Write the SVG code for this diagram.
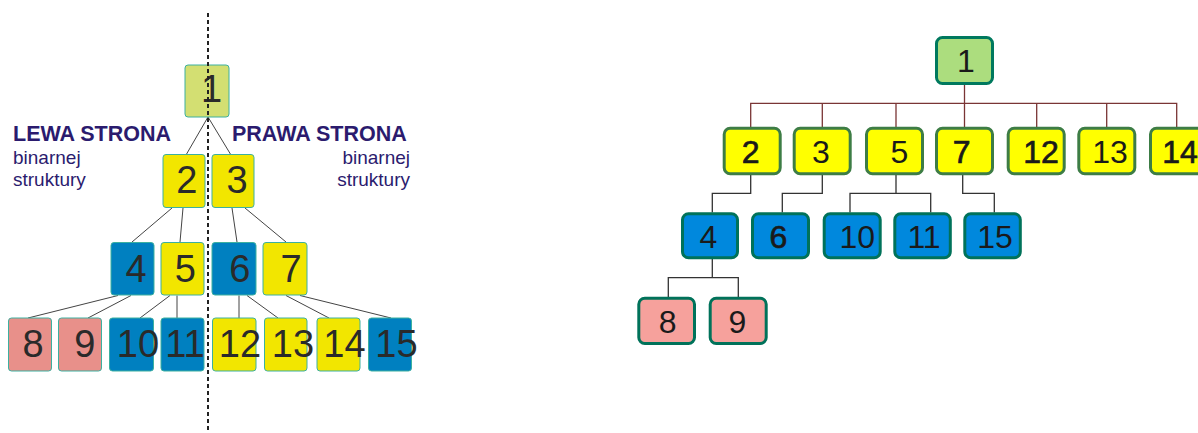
<svg xmlns="http://www.w3.org/2000/svg" width="1198" height="433" viewBox="0 0 1198 433">
<style>
.lb{stroke:#3cb0a0;stroke-width:1}
.lt{font-family:"Liberation Sans",Arial,sans-serif;font-size:38px;fill:#2a2a2a;text-anchor:middle}
.ly{fill:#f2e600}.lbl{fill:#0080c0}.lp{fill:#e8908a}.lg{fill:#d3df72}
.rb{stroke-width:3}
.ry{fill:#ffff00;stroke:#3d7d45}.rbl{fill:#0088dd;stroke:#00725a}.rp{fill:#f6a19c;stroke:#00725a}.rg{fill:#acdd7e;stroke:#00795e}
.rt{font-family:"Liberation Sans",Arial,sans-serif;font-size:32px;fill:#1a1a1a;text-anchor:middle}
.b{stroke:#1a1a1a;stroke-width:0.7}
.cl{stroke:#444;stroke-width:1;fill:none}
.cb{stroke:#7a3535;stroke-width:1.3;fill:none}
.cg{stroke:#333;stroke-width:1.3;fill:none}
.hd{font-family:"Liberation Sans",Arial,sans-serif;font-size:21.5px;font-weight:bold;fill:#2b1b6e}
.sb{font-family:"Liberation Sans",Arial,sans-serif;font-size:19px;fill:#2b1b6e}
</style>
<g id="connectors">
<path class="cl" d="M208,117 L186,155 M208,117 L231,155"/>
<path class="cl" d="M172,208 L132,242 M183,208 L180,242 M232,208 L237,242 M245,208 L286,242"/>
<path class="cl" d="M118,295.5 L28,318 M131,295.5 L88,318 M170,295.5 L140,318 M177,295.5 L177,318 M239,295.5 L239,318 M247,295.5 L278,318 M286,295.5 L329,318 M300,295.5 L391,318"/>
<path class="cb" d="M964.5,85 V127 M750.7,127 V103.3 H1176.7 V127 M822.3,103.3 V127 M896,103.3 V127 M1036.7,103.3 V127 M1106.7,103.3 V127"/>
<path class="cg" d="M750.7,175 V193.3 H712.3 V212.5 M822.3,175 V193.3 H782.3 V212.5 M896,175 V193.3 M850,212.5 V193.3 H930.7 V212.5 M962.7,175 V193.3 H994.3 V212.5 M712.3,259 V277.7 M668.3,297 V277.7 H738.3 V297"/>
</g>
<g id="left-labels">
<text class="hd" x="13" y="140.7">LEWA STRONA</text>
<text class="sb" x="13" y="164">binarnej</text>
<text class="sb" x="13" y="186">struktury</text>
<text class="hd" x="232" y="140.7">PRAWA STRONA</text>
<text class="sb" x="410" y="164" text-anchor="end">binarnej</text>
<text class="sb" x="410" y="186" text-anchor="end">struktury</text>
</g>
<g id="L1"><rect class="lb lg" x="185" y="65" width="44" height="52" rx="3"/><text class="lt" x="211.5" y="101.7">1</text></g>
<g id="L2"><rect class="lb ly" x="163" y="154.5" width="42" height="53" rx="3"/><text class="lt" x="186.7" y="193.3">2</text></g>
<g id="L3"><rect class="lb ly" x="212" y="154.5" width="42" height="53" rx="3"/><text class="lt" x="237" y="193.3">3</text></g>
<g id="L4"><rect class="lb lbl" x="111" y="242.5" width="43" height="52.5" rx="3"/><text class="lt" x="136" y="281.7">4</text></g>
<g id="L5"><rect class="lb ly" x="161" y="242.5" width="43" height="52.5" rx="3"/><text class="lt" x="185.3" y="281.7">5</text></g>
<g id="L6"><rect class="lb lbl" x="212" y="242.5" width="44" height="52.5" rx="3"/><text class="lt" x="239.7" y="281.7">6</text></g>
<g id="L7"><rect class="lb ly" x="263" y="242.5" width="44" height="52.5" rx="3"/><text class="lt" x="291" y="281.7">7</text></g>
<g id="L8"><rect class="lb lp" x="8.5" y="318" width="43" height="53" rx="3"/><text class="lt" x="33" y="356.7">8</text></g>
<g id="L9"><rect class="lb lp" x="58.5" y="318" width="43" height="53" rx="3"/><text class="lt" x="84.7" y="356.7">9</text></g>
<g id="L10"><rect class="lb lbl" x="109.5" y="318" width="44" height="53" rx="3"/><text class="lt" x="138" y="356.7">10</text></g>
<g id="L11"><rect class="lb lbl" x="161" y="318" width="43" height="53" rx="3"/><text class="lt" x="185" y="356.7">11</text></g>
<g id="L12"><rect class="lb ly" x="212.5" y="318" width="43.5" height="53" rx="3"/><text class="lt" x="240" y="356.7">12</text></g>
<g id="L13"><rect class="lb ly" x="264.5" y="318" width="42.5" height="53" rx="3"/><text class="lt" x="293" y="356.7">13</text></g>
<g id="L14"><rect class="lb ly" x="317" y="318" width="43" height="53" rx="3"/><text class="lt" x="344.5" y="356.7">14</text></g>
<g id="L15"><rect class="lb lbl" x="368.5" y="318" width="43" height="53" rx="3"/><text class="lt" x="396.5" y="356.7">15</text></g>
<line x1="208" y1="13" x2="208" y2="433" stroke="#222" stroke-width="2" stroke-dasharray="4,3"/>
<g id="R1"><rect class="rb rg" x="936.5" y="37.5" width="56" height="46" rx="6"/><text class="rt" x="966" y="71.7">1</text></g>
<g id="R2"><rect class="rb ry" x="724.2" y="128.2" width="56" height="45.5" rx="6"/><text class="rt b" x="750.7" y="163.3">2</text></g>
<g id="R3"><rect class="rb ry" x="794.2" y="128.2" width="56" height="45.5" rx="6"/><text class="rt" x="821" y="163.3">3</text></g>
<g id="R5"><rect class="rb ry" x="866.5" y="128.2" width="56" height="45.5" rx="6"/><text class="rt" x="899.3" y="163.3">5</text></g>
<g id="R7"><rect class="rb ry" x="936.5" y="128.2" width="56" height="45.5" rx="6"/><text class="rt b" x="961.7" y="163.3">7</text></g>
<g id="R12"><rect class="rb ry" x="1008.2" y="128.2" width="56" height="45.5" rx="6"/><text class="rt b" x="1041" y="163.3">12</text></g>
<g id="R13"><rect class="rb ry" x="1078.8" y="128.2" width="56" height="45.5" rx="6"/><text class="rt" x="1110" y="163.3">13</text></g>
<g id="R14"><rect class="rb ry" x="1150.5" y="128.2" width="56" height="45.5" rx="6"/><text class="rt b" x="1180" y="163.3">14</text></g>
<g id="R4"><rect class="rb rbl" x="682.5" y="213.8" width="55" height="44" rx="6"/><text class="rt" x="708.3" y="248.3">4</text></g>
<g id="R6"><rect class="rb rbl" x="752.5" y="213.8" width="56" height="44" rx="6"/><text class="rt b" x="778.3" y="248.3">6</text></g>
<g id="R10"><rect class="rb rbl" x="824.2" y="213.8" width="56" height="44" rx="6"/><text class="rt" x="857.3" y="248.3">10</text></g>
<g id="R11"><rect class="rb rbl" x="894.8" y="213.8" width="55.5" height="44" rx="6"/><text class="rt" x="924" y="248.3">11</text></g>
<g id="R15"><rect class="rb rbl" x="964.8" y="213.8" width="55.5" height="44" rx="6"/><text class="rt" x="995" y="248.3">15</text></g>
<g id="R8"><rect class="rb rp" x="638.8" y="298.2" width="55.7" height="45.3" rx="6"/><text class="rt" x="667.7" y="333.3">8</text></g>
<g id="R9"><rect class="rb rp" x="710.2" y="298.2" width="56" height="45.3" rx="6"/><text class="rt" x="737.3" y="333.3">9</text></g>
</svg>
